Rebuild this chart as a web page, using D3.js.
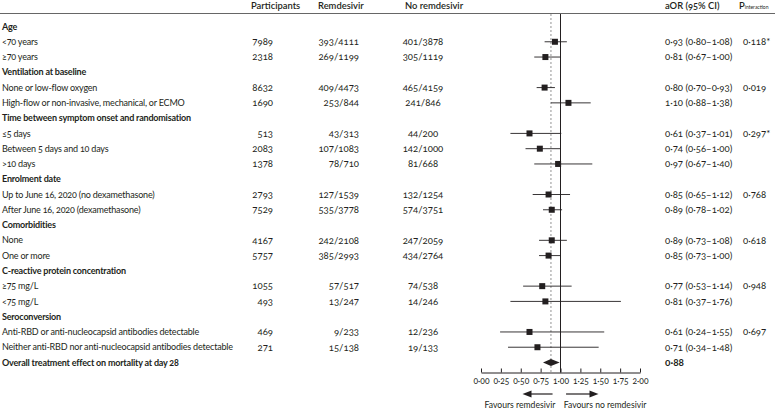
<!DOCTYPE html>
<html lang="en">
<meta charset="utf-8">
<head>
<style>
  body { margin: 0; background: #fff; }
  svg text { font-family: Lato, "Open Sans", sans-serif; fill: #231f20; font-variant-numeric: oldstyle-nums; }
  .lab { letter-spacing: -0.2px; }
  .axis text { font-size: 8.5px; }
</style>
</head>
<body>
<svg id="chart" width="775" height="409"></svg>
<script src="https://cdn.jsdelivr.net/npm/d3@7"></script>
<script>
// rows, top to bottom; "h" = subgroup heading, "r" = row, "o" = overall
const labels = [
  "Age", "<70 years", "≥70 years",
  "Ventilation at baseline", "None or low-flow oxygen", "High-flow or non-invasive, mechanical, or ECMO",
  "Time between symptom onset and randomisation", "≤5 days", "Between 5 days and 10 days", ">10 days",
  "Enrolment date", "Up to June 16, 2020 (no dexamethasone)", "After June 16, 2020 (dexamethasone)",
  "Comorbidities", "None", "One or more",
  "C-reactive protein concentration", "≥75 mg/L", "<75 mg/L",
  "Seroconversion", "Anti-RBD or anti-nucleocapsid antibodies detectable", "Neither anti-RBD nor anti-nucleocapsid antibodies detectable",
  "Overall treatment effect on mortality at day 28"
];
const rowType = ["h","r","r","h","r","r","h","r","r","r","h","r","r","h","r","r","h","r","r","h","r","r","o"];
const participants = ["","7989","2318","","8632","1690","","513","2083","1378","","2793","7529","","4167","5757","","1055","493","","469","271",""];
const remdesivir = ["","393/4111","269/1199","","409/4473","253/844","","43/313","107/1083","78/710","","127/1539","535/3778","","242/2108","385/2993","","57/517","13/247","","9/233","15/138",""];
const noRemdesivir = ["","401/3878","305/1119","","465/4159","241/846","","44/200","142/1000","81/668","","132/1254","574/3751","","247/2059","434/2764","","74/538","14/246","","12/236","19/133",""];
const aor = [null,0.93,0.81,null,0.80,1.10,null,0.61,0.74,0.97,null,0.85,0.89,null,0.89,0.85,null,0.77,0.81,null,0.61,0.71,0.88];
const ciLow = [null,0.80,0.67,null,0.70,0.88,null,0.37,0.56,0.67,null,0.65,0.78,null,0.73,0.73,null,0.53,0.37,null,0.24,0.34,0.78];
const ciHigh = [null,1.08,1.00,null,0.93,1.38,null,1.01,1.00,1.40,null,1.12,1.02,null,1.08,1.00,null,1.14,1.76,null,1.55,1.48,0.99];
const pInteraction = ["","0·118*","","","0·019","","","0·297*","","","","0·768","","","0·618","","","0·948","","","0·697","",""];
const axisTicks = [0, 0.25, 0.5, 0.75, 1, 1.25, 1.5, 1.75, 2];
const overallEffect = 0.88;

const svg = d3.select("#chart");
const fmt = v => d3.format(".2f")(v).replace(".", "·");

const x = d3.scaleLinear().domain([0, 2]).range([481, 640]);
const y = d3.scaleLinear().domain([0, labels.length - 1]).range([26.5, 362.5]);
const axisY = 372.5;
const fs = "9px";    // label text
const fn = "9.6px";  // numbers

// column headings
const heads = [
  {t: "Participants", x: 251},
  {t: "Remdesivir", x: 318},
  {t: "No remdesivir", x: 405},
  {t: "aOR (95% CI)", x: 665}
];
svg.selectAll("text.colhead").data(heads).enter().append("text")
  .attr("class", "colhead")
  .attr("x", d => d.x).attr("y", 6).attr("dy", "0.35em")
  .style("font-size", "9.4px").style("font-weight", 600)
  .text(d => d.t);
const ph = svg.append("text").attr("x", 739).attr("y", 6).attr("dy", "0.35em")
  .style("font-size", "9.4px").style("font-weight", 600);
ph.append("tspan").text("P");
ph.append("tspan").style("font-size", "5px").style("font-weight", 400).text("interaction");

svg.append("line")
  .attr("x1", 0).attr("x2", 775).attr("y1", 13.5).attr("y2", 13.5)
  .attr("stroke", "#666").attr("stroke-width", 1.2);

const idx = d3.range(labels.length);

// label column
svg.selectAll("text.lab").data(idx).enter().append("text")
  .attr("class", "lab")
  .attr("x", 2).attr("y", i => y(i)).attr("dy", "0.35em")
  .style("font-size", fs)
  .style("font-weight", i => rowType[i] === "r" ? 400 : 700)
  .text(i => labels[i]);

svg.selectAll("text.part").data(idx).enter().append("text")
  .attr("x", 273).attr("y", i => y(i)).attr("dy", "0.35em")
  .attr("text-anchor", "end").style("font-size", fn)
  .text(i => participants[i]);

svg.selectAll("text.rem").data(idx).enter().append("text")
  .attr("x", 359).attr("y", i => y(i)).attr("dy", "0.35em")
  .attr("text-anchor", "end").style("font-size", fn)
  .text(i => remdesivir[i]);

svg.selectAll("text.norem").data(idx).enter().append("text")
  .attr("x", 423).attr("y", i => y(i)).attr("dy", "0.35em")
  .attr("text-anchor", "middle").style("font-size", fn)
  .text(i => noRemdesivir[i]);

svg.selectAll("text.aor").data(idx.filter(i => aor[i] != null)).enter().append("text")
  .attr("x", 665).attr("y", i => y(i)).attr("dy", "0.35em")
  .style("font-size", i => rowType[i] === "o" ? "10px" : fn)
  .style("font-weight", i => rowType[i] === "o" ? 700 : 400)
  .text(i => rowType[i] === "o" ? fmt(aor[i]) : `${fmt(aor[i])} (${fmt(ciLow[i])}–${fmt(ciHigh[i])})`);

svg.selectAll("text.p").data(idx).enter().append("text")
  .attr("x", 743).attr("y", i => y(i)).attr("dy", "0.35em")
  .style("font-size", fn)
  .text(i => pInteraction[i]);

// reference lines
svg.append("line")
  .attr("x1", x(overallEffect)).attr("x2", x(overallEffect))
  .attr("y1", 14).attr("y2", axisY)
  .attr("stroke", "#777").attr("stroke-width", 0.8).attr("stroke-dasharray", "2,2");
svg.append("line")
  .attr("x1", x(1)).attr("x2", x(1))
  .attr("y1", 14).attr("y2", axisY)
  .attr("stroke", "#231f20").attr("stroke-width", 1);

// CIs and boxes
const rows = idx.filter(i => rowType[i] === "r");
svg.selectAll("line.ci").data(rows).enter().append("line")
  .attr("x1", i => x(ciLow[i])).attr("x2", i => x(ciHigh[i]))
  .attr("y1", i => y(i)).attr("y2", i => y(i))
  .attr("stroke", "#231f20").attr("stroke-width", 0.9);
const bs = 6;
svg.selectAll("rect.pt").data(rows).enter().append("rect")
  .attr("x", i => x(aor[i]) - bs / 2).attr("y", i => y(i) - bs / 2)
  .attr("width", bs).attr("height", bs)
  .attr("fill", "#231f20");

// overall diamond
const oi = labels.length - 1;
svg.append("path")
  .attr("d", `M${x(ciLow[oi])},${y(oi)} L${x(aor[oi])},${y(oi) - 3.5} L${x(ciHigh[oi])},${y(oi)} L${x(aor[oi])},${y(oi) + 3.5} Z`)
  .attr("fill", "#231f20");

// axis
const ax = svg.append("g").attr("class", "axis")
  .attr("transform", `translate(0,${axisY})`)
  .call(d3.axisBottom(x).tickValues(axisTicks).tickSize(4).tickSizeOuter(0).tickFormat(fmt));
ax.select(".domain").attr("stroke", "#231f20");
ax.selectAll(".tick line").attr("stroke", "#231f20").attr("y1", -4).attr("y2", 0);
ax.selectAll(".tick text").attr("y", 5).attr("dy", "0.71em").style("font-family", "Lato, sans-serif");

// favours arrows
const arrowY = 394;
const arrows = [{from: 0.9, to: 0.56}, {from: 1.07, to: 1.44}];
svg.selectAll("line.arr").data(arrows).enter().append("line")
  .attr("x1", d => x(d.from)).attr("x2", d => x(d.to))
  .attr("y1", arrowY).attr("y2", arrowY)
  .attr("stroke", "#231f20").attr("stroke-width", 1.2);
svg.selectAll("path.arrhead").data(arrows).enter().append("path")
  .attr("d", d => {
    const tx = x(d.to), s = d.to < d.from ? -1 : 1;
    return `M${tx + s * 3},${arrowY} L${tx - s * 6},${arrowY - 3.5} L${tx - s * 6},${arrowY + 3.5} Z`;
  })
  .attr("fill", "#231f20");

const favours = [{t: "Favours remdesivir", v: 0.49}, {t: "Favours no remdesivir", v: 1.56}];
svg.selectAll("text.fav").data(favours).enter().append("text")
  .attr("x", d => x(d.v)).attr("y", 405).attr("dy", "0.35em")
  .attr("text-anchor", "middle").style("font-size", "8.6px")
  .text(d => d.t);
</script>
</body>
</html>
